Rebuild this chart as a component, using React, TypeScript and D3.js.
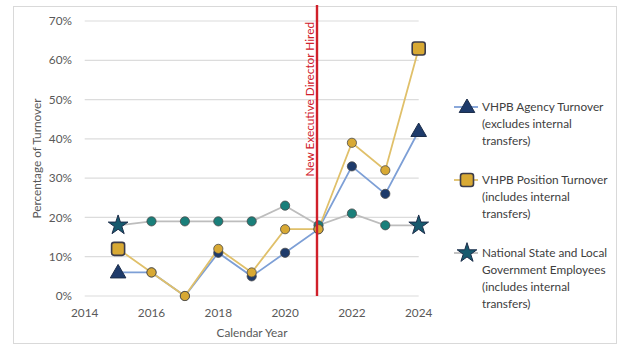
import React from "react";
import * as d3 from "d3";

const years = [2015, 2016, 2017, 2018, 2019, 2020, 2021, 2022, 2023, 2024];
const agencyTurnover = [6, 6, 0, 11, 5, 11, 17, 33, 26, 42];
const positionTurnover = [12, 6, 0, 12, 6, 17, 17, 39, 32, 63];
const nationalTurnover = [18, 19, 19, 19, 19, 23, 18, 21, 18, 18];
const yTicks = [0, 10, 20, 30, 40, 50, 60, 70];
const xTicks = [2014, 2016, 2018, 2020, 2022, 2024];
const hireYear = 2021;

const font = "Lato, 'Open Sans', sans-serif";
const fs = 11.8;

type SeriesDef = {
  name: string[];
  values: number[];
  line: string;
  fill: string;
  end: "triangle" | "square" | "star";
};

const series: SeriesDef[] = [
  {
    name: ["VHPB Agency Turnover", "(excludes internal", "transfers)"],
    values: agencyTurnover,
    line: "#7d9fd6",
    fill: "#1e3b6b",
    end: "triangle",
  },
  {
    name: ["VHPB Position Turnover", "(includes internal", "transfers)"],
    values: positionTurnover,
    line: "#e0c06a",
    fill: "#d8a934",
    end: "square",
  },
  {
    name: ["National State and Local", "Government Employees", "(includes internal", "transfers)"],
    values: nationalTurnover,
    line: "#bdbdbd",
    fill: "#1a7f7a",
    end: "star",
  },
];

// drawing order: national at the back, then agency, then position on top
const drawOrder = [series[2], series[0], series[1]];

function EndMarker({ kind, x, y, fill }: { kind: string; x: number; y: number; fill: string }) {
  if (kind === "square") {
    return (
      <rect x={x - 6.5} y={y - 6.5} width={13} height={13} rx={2.5} fill={fill} stroke="#3b3b4a" strokeWidth={1.6} />
    );
  }
  const sym = kind === "triangle" ? d3.symbolTriangle : d3.symbolStar;
  const size = kind === "triangle" ? 105 : 120;
  const path = d3.symbol().type(sym).size(size)() || "";
  const f = kind === "star" ? "#175a6e" : fill;
  return (
    <path d={path} transform={`translate(${x},${y + (kind === "triangle" ? 1 : 0)})`} fill={f} stroke="#1c2d4a" strokeWidth={1} />
  );
}

export default function App() {
  const width = 625;
  const height = 349;
  const x = d3.scaleLinear().domain([2014, 2024]).range([84.7, 418.7]);
  const y = d3.scaleLinear().domain([0, 70]).range([296, 21]);
  const line = d3
    .line<[number, number]>()
    .x((d) => x(d[0]))
    .y((d) => y(d[1]));

  const legendY = [107, 180, 253];

  return (
    <svg width={width} height={height} style={{ position: "absolute", left: 0, top: 0, background: "#fff" }}>
      <rect x={13.5} y={6.5} width={603} height={337} fill="#fff" stroke="#d9d9d9" strokeWidth={1} />
      {/* gridlines */}
      {yTicks.map((t) => (
        <line key={t} x1={x(2014)} x2={x(2024)} y1={y(t)} y2={y(t)} stroke="#dcdcdc" strokeWidth={1.2} />
      ))}
      {/* y tick labels */}
      {yTicks.map((t) => (
        <text key={t} x={72} y={y(t)} dy="0.35em" textAnchor="end" fontFamily={font} fontSize={fs} fill="#595959">
          {t}%
        </text>
      ))}
      {/* x tick labels */}
      {xTicks.map((t) => (
        <text key={t} x={x(t)} y={313} dy="0.35em" textAnchor="middle" fontFamily={font} fontSize={fs} fill="#595959">
          {t}
        </text>
      ))}
      <text x={252} y={333} dy="0.35em" textAnchor="middle" fontFamily={font} fontSize={fs} fill="#595959">
        Calendar Year
      </text>
      <text
        transform={`translate(37,${y(35)}) rotate(-90)`}
        dy="0.35em"
        textAnchor="middle"
        fontFamily={font}
        fontSize={fs}
        fill="#595959"
      >
        Percentage of Turnover
      </text>

      {/* series lines */}
      {drawOrder.map((s) => (
        <path
          key={s.name[0]}
          d={line(years.map((yr, i) => [yr, s.values[i]] as [number, number])) || ""}
          fill="none"
          stroke={s.line}
          strokeWidth={1.8}
        />
      ))}
      {/* markers */}
      {drawOrder.map((s) =>
        years.map((yr, i) => {
          const cx = x(yr);
          const cy = y(s.values[i]);
          if (i === 0 || i === years.length - 1) {
            return <EndMarker key={s.name[0] + yr} kind={s.end} x={cx} y={cy} fill={s.fill} />;
          }
          return <circle key={s.name[0] + yr} cx={cx} cy={cy} r={4.6} fill={s.fill} stroke="#4a4a4a" strokeWidth={0.8} />;
        })
      )}

      {/* executive director marker */}
      <line x1={x(hireYear) - 1.5} x2={x(hireYear) - 1.5} y1={5} y2={296} stroke="#d0202a" strokeWidth={2.4} />
      <text
        transform={`translate(${x(hireYear) - 8.5},22) rotate(-90)`}
        textAnchor="end"
        dy="0.35em"
        fontFamily={font}
        fontSize={fs}
        fill="#d0202a"
      >
        New Executive Director Hired
      </text>

      {/* legend */}
      {series.map((s, k) => {
        const ly = legendY[k];
        return (
          <g key={s.name[0]}>
            <line x1={454} x2={478} y1={ly} y2={ly} stroke={s.line} strokeWidth={1.8} />
            <EndMarker kind={s.end} x={467} y={ly} fill={s.fill} />
            {s.name.map((n, j) => (
              <text key={n} x={482} y={ly + j * 16.8} dy="0.35em" fontFamily={font} fontSize={fs} fill="#404040">
                {n}
              </text>
            ))}
          </g>
        );
      })}
    </svg>
  );
}
